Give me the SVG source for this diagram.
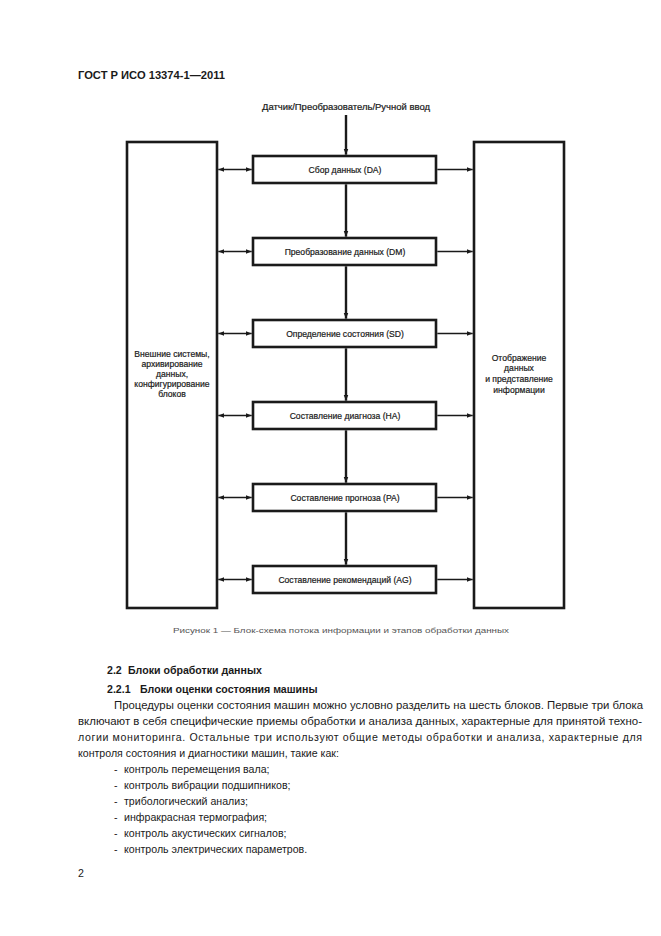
<svg xmlns="http://www.w3.org/2000/svg" width="661" height="936" viewBox="0 0 661 936">
<style>
text{font-family:"Liberation Sans",Arial,sans-serif;fill:#1a1a1a}
.big{fill:#fff;stroke:#1a1a1a;stroke-width:2.6}
.box{fill:#fff;stroke:#1a1a1a;stroke-width:2.6}
.lbl{font-size:8.6px;text-anchor:middle;stroke:#1a1a1a;stroke-width:0.2}
.v{stroke:#1a1a1a;stroke-width:2.4;fill:none}
.h{stroke:#1a1a1a;stroke-width:1.6;fill:none}
.body{font-size:10.6px}
.hd{font-size:10.6px;font-weight:bold}
</style>
<defs>
<marker id="ahs" viewBox="0 0 10 10" refX="10" refY="5" markerWidth="6" markerHeight="6" orient="auto-start-reverse" markerUnits="userSpaceOnUse">
<path d="M0,1 L10,5 L0,9 z" fill="#1a1a1a"/>
</marker>
</defs>
<rect width="661" height="936" fill="#fff"/>
<text x="78" y="79" class="hd" textLength="147" lengthAdjust="spacingAndGlyphs">ГОСТ Р ИСО 13374-1—2011</text>
<text x="346" y="110" class="lbl" textLength="168" lengthAdjust="spacingAndGlyphs">Датчик/Преобразователь/Ручной ввод</text>

<g id="left"><rect class="big" x="127" y="142" width="90" height="466"/>
<text class="lbl"><tspan x="172" y="357">Внешние системы,</tspan><tspan x="172" y="367">архивирование</tspan><tspan x="172" y="377">данных,</tspan><tspan x="172" y="387">конфигурирование</tspan><tspan x="172" y="397">блоков</tspan></text></g>
<g id="right"><rect class="big" x="474" y="142" width="90" height="466"/>
<text class="lbl"><tspan x="519" y="361">Отображение</tspan><tspan x="519" y="371">данных</tspan><tspan x="519" y="382">и представление</tspan><tspan x="519" y="393">информации</tspan></text></g>

<g id="DA"><rect class="box" x="253" y="156" width="183" height="27"/><text class="lbl" x="345" y="172.5">Сбор данных (DA)</text></g>
<g id="DM"><rect class="box" x="253" y="238" width="183" height="27"/><text class="lbl" x="345" y="254.5">Преобразование данных (DM)</text></g>
<g id="SD"><rect class="box" x="253" y="320" width="183" height="27"/><text class="lbl" x="345" y="336.5">Определение состояния (SD)</text></g>
<g id="HA"><rect class="box" x="253" y="402" width="183" height="27"/><text class="lbl" x="345" y="418.5">Составление диагноза (HA)</text></g>
<g id="PA"><rect class="box" x="253" y="484" width="183" height="27"/><text class="lbl" x="345" y="500.5">Составление прогноза (PA)</text></g>
<g id="AG"><rect class="box" x="253" y="566" width="183" height="27"/><text class="lbl" x="345" y="582.5">Составление рекомендаций (AG)</text></g>

<g id="connectors">
<path class="v" d="M346,115 V154.7" marker-end="url(#ahs)"/>
<path class="v" d="M346,184.3 V236.7" marker-end="url(#ahs)"/>
<path class="v" d="M346,266.3 V318.7" marker-end="url(#ahs)"/>
<path class="v" d="M346,348.3 V400.7" marker-end="url(#ahs)"/>
<path class="v" d="M346,430.3 V482.7" marker-end="url(#ahs)"/>
<path class="v" d="M346,512.3 V564.7" marker-end="url(#ahs)"/>
<path class="h" d="M218.3,169.5 H251.7" marker-start="url(#ahs)" marker-end="url(#ahs)"/>
<path class="h" d="M218.3,251.5 H251.7" marker-start="url(#ahs)" marker-end="url(#ahs)"/>
<path class="h" d="M218.3,333.5 H251.7" marker-start="url(#ahs)" marker-end="url(#ahs)"/>
<path class="h" d="M218.3,415.5 H251.7" marker-start="url(#ahs)" marker-end="url(#ahs)"/>
<path class="h" d="M218.3,497.5 H251.7" marker-start="url(#ahs)" marker-end="url(#ahs)"/>
<path class="h" d="M218.3,579.5 H251.7" marker-start="url(#ahs)" marker-end="url(#ahs)"/>
<path class="h" d="M437.3,169.5 H472.7" marker-end="url(#ahs)"/>
<path class="h" d="M437.3,251.5 H472.7" marker-end="url(#ahs)"/>
<path class="h" d="M437.3,333.5 H472.7" marker-end="url(#ahs)"/>
<path class="h" d="M437.3,415.5 H472.7" marker-end="url(#ahs)"/>
<path class="h" d="M437.3,497.5 H472.7" marker-end="url(#ahs)"/>
<path class="h" d="M437.3,579.5 H472.7" marker-end="url(#ahs)"/>
</g>

<text x="341" y="633" text-anchor="middle" style="font-size:8px;fill:#555" textLength="336" lengthAdjust="spacingAndGlyphs">Рисунок 1 — Блок-схема потока информации и этапов обработки данных</text>

<text y="674" class="hd"><tspan x="107">2.2</tspan><tspan x="128">Блоки обработки данных</tspan></text>
<text y="693" class="hd"><tspan x="107">2.2.1</tspan><tspan x="140">Блоки оценки состояния машины</tspan></text>
<text x="114" y="709" class="body" textLength="529" lengthAdjust="spacingAndGlyphs">Процедуры оценки состояния машин можно условно разделить на шесть блоков. Первые три блока</text>
<text x="78" y="725" class="body" textLength="564" lengthAdjust="spacingAndGlyphs">включают в себя специфические приемы обработки и анализа данных, характерные для принятой техно-</text>
<text x="78" y="741" class="body" textLength="564" lengthAdjust="spacing">логии мониторинга. Остальные три используют общие методы обработки и анализа, характерные для</text>
<text x="78" y="757" class="body">контроля состояния и диагностики машин, такие как:</text>
<text class="body"><tspan x="114" y="773">-</tspan><tspan x="124">контроль перемещения вала;</tspan><tspan x="114" y="789">-</tspan><tspan x="124">контроль вибрации подшипников;</tspan><tspan x="114" y="805">-</tspan><tspan x="124">трибологический анализ;</tspan><tspan x="114" y="821">-</tspan><tspan x="124">инфракрасная термография;</tspan><tspan x="114" y="837">-</tspan><tspan x="124">контроль акустических сигналов;</tspan><tspan x="114" y="853">-</tspan><tspan x="124">контроль электрических параметров.</tspan></text>
<text x="78" y="877" class="body">2</text>
</svg>
